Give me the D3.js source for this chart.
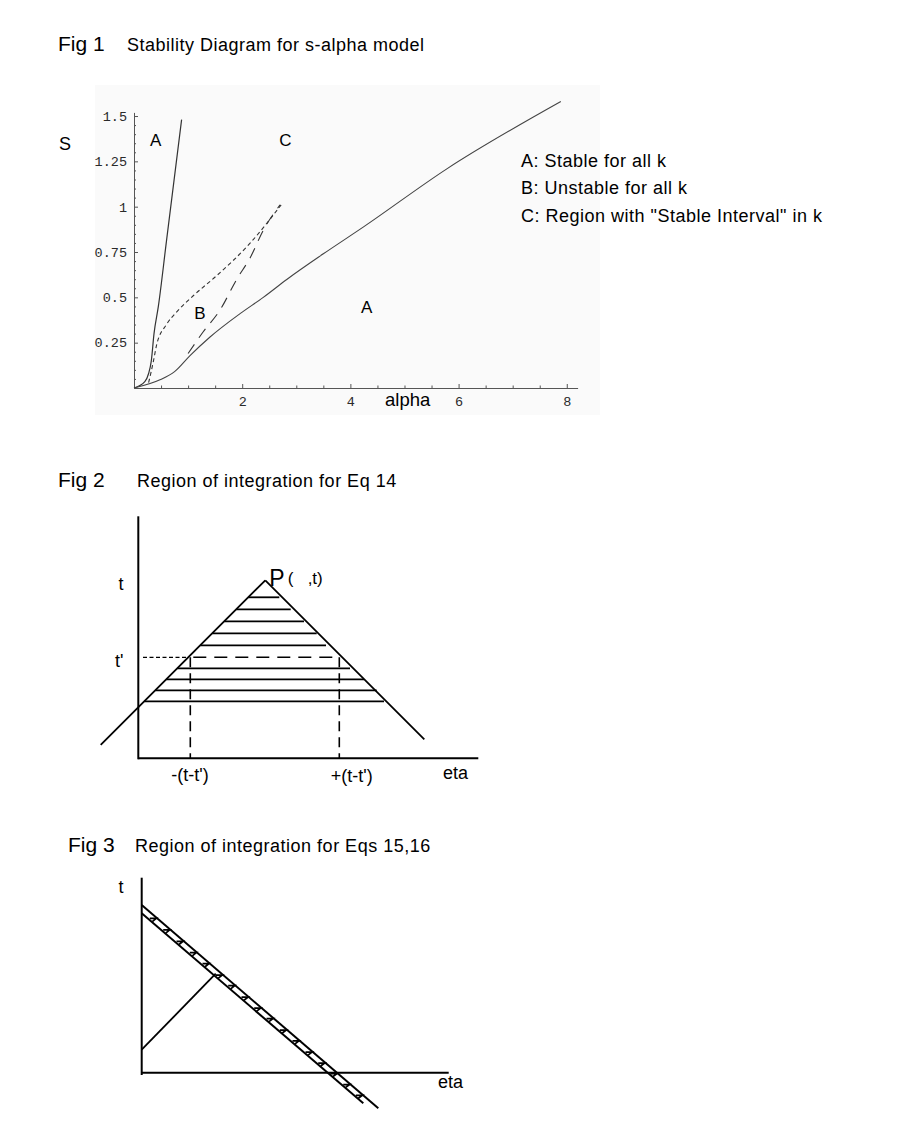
<!DOCTYPE html>
<html><head><meta charset="utf-8">
<script src="https://cdn.jsdelivr.net/npm/d3@7"></script>
<style>
body{margin:0;background:#fff}
svg{display:block}
text{font-family:"Liberation Sans",Arial,Helvetica,sans-serif;fill:#000}
.mono{font-family:"Liberation Mono","Courier New",monospace;font-size:13.5px;fill:#2a2a2a}
.ttl{font-size:18px;letter-spacing:0.5px}
.fig{font-size:21px}
</style>
</head><body>
<svg id="c" width="900" height="1144"></svg>
<script>
// ---------- Fig 1 data ----------
const alphaTicks = [2, 4, 6, 8];
const alphaMinor = [0.5, 1, 1.5, 2.5, 3, 3.5, 4.5, 5, 5.5, 6.5, 7, 7.5];
const sTicks = [0.25, 0.5, 0.75, 1, 1.25, 1.5];
const sMinor = [0.05,0.1,0.15,0.2,0.3,0.35,0.4,0.45,0.55,0.6,0.65,0.7,0.8,0.85,0.9,0.95,1.05,1.1,1.15,1.2,1.3,1.35,1.4,1.45];
const steepCurve = [[0,0],[0.2,0.035],[0.27,0.08],[0.32,0.15],[0.37,0.30],[0.45,0.45],[0.6,0.81],[0.88,1.48]];
const lowerCurve = [[0,0],[0.48,0.045],[0.75,0.09],[1.04,0.18],[1.4,0.28],[1.96,0.41],[2.39,0.50],[2.83,0.60],[3.5,0.74],[4.25,0.89],[5.79,1.21],[7.89,1.58]];
const shortDashCurve = [[0.27,0.03],[0.31,0.08],[0.36,0.15],[0.42,0.24],[0.60,0.35],[0.79,0.42],[1.10,0.51],[1.53,0.62],[2.15,0.80],[2.72,1.01]];
const longDashCurve = [[1.0,0.19],[1.28,0.31],[1.59,0.43],[1.90,0.60],[2.15,0.72],[2.39,0.87],[2.70,1.01]];
const regionText = ["A", "C", "B", "A"];
const regionAlpha = [0.40, 2.80, 1.22, 4.30];
const regionS = [1.335, 1.335, 0.38, 0.415];
const legendLines = ["A: Stable for all k", "B: Unstable for all k", "C: Region with \"Stable Interval\" in k"];

// ---------- Fig 2 data (diagram units) ----------
const coneLeft = [[-37.6,13.4],[127,178]];
const coneRight = [[127,178],[286,19]];
const hatchT = [161,149,137,125,113,90,79,68,57];
const hatchRightEta = [141,152.4,165.7,178.4,187.7,211.7,225.7,238.4,245.7];
const tPrime = 101;
const tPrimeSegments = [[4.7,50],[52,201.7]];
const footEta = [52, 201];

// ---------- Fig 3 data (diagram units) ----------
const upperLine = [[0,167.7],[236.6,-35.6]];
const lowerLine = [[0,159.4],[221.6,-30.6]];
const rayLine = [[0,23],[74,99]];
const hatch3Eta = [11.6,25,38.3,51.6,64.3,77.6,90,103.3,116,128.3,141.6,154.3,167.3,180,192.3,205,217.6];

const svg = d3.select("#c");

// ===== Fig 1 =====
svg.append("text").attr("class","fig").attr("x",58).attr("y",51).text("Fig 1");
svg.append("text").attr("class","ttl").attr("x",127).attr("y",51).text("Stability Diagram for s-alpha model");

svg.append("rect").attr("x",95).attr("y",85).attr("width",505).attr("height",330).attr("fill","#fafafa");

const x1 = d3.scaleLinear().domain([0,8.2]).range([134,577.6]);
const y1 = d3.scaleLinear().domain([0,1.52]).range([388,112.4]);

const g1 = svg.append("g");
const xAxis = g1.append("g").attr("transform","translate(0,388)")
  .call(d3.axisBottom(x1).tickValues(alphaTicks).tickSizeInner(-4).tickSizeOuter(0).tickPadding(8).tickFormat(d=>String(d)));
xAxis.selectAll("text").attr("class","mono");
g1.append("g").attr("transform","translate(0,388)")
  .call(d3.axisBottom(x1).tickValues(alphaMinor).tickSizeInner(-2.5).tickSizeOuter(0).tickFormat(""))
  .select(".domain").remove();
const yAxis = g1.append("g").attr("transform","translate(134,0)")
  .call(d3.axisLeft(y1).tickValues(sTicks).tickSizeInner(-4).tickSizeOuter(0).tickPadding(7).tickFormat(d=>String(d)));
yAxis.selectAll("text").attr("class","mono");
g1.append("g").attr("transform","translate(134,0)")
  .call(d3.axisLeft(y1).tickValues(sMinor).tickSizeInner(-2).tickSizeOuter(0).tickFormat(""))
  .select(".domain").remove();
g1.selectAll(".domain, .tick line").attr("stroke","#555");

const line1 = d3.line().x(d=>x1(d[0])).y(d=>y1(d[1])).curve(d3.curveMonotoneX);
g1.append("path").attr("d",line1(steepCurve)).attr("fill","none").attr("stroke","#333").attr("stroke-width",1.2);
g1.append("path").attr("d",line1(lowerCurve)).attr("fill","none").attr("stroke","#444").attr("stroke-width",1.1);
g1.append("path").attr("d",line1(shortDashCurve)).attr("fill","none").attr("stroke","#333").attr("stroke-width",1.1).attr("stroke-dasharray","4,3");
g1.append("path").attr("d",line1(longDashCurve)).attr("fill","none").attr("stroke","#333").attr("stroke-width",1.1).attr("stroke-dasharray","11,8");

regionText.forEach((t,i)=>{
  g1.append("text").attr("x",x1(regionAlpha[i])).attr("y",y1(regionS[i])).attr("text-anchor","middle").attr("font-size",17).text(t);
});
svg.append("text").attr("x",65).attr("y",150).attr("text-anchor","middle").attr("font-size",18).text("S");
svg.append("text").attr("x",385).attr("y",406).attr("font-size",18.5).text("alpha");
legendLines.forEach((t,i)=>{
  svg.append("text").attr("class","ttl").attr("x",521).attr("y",166.5+i*27.5).text(t);
});

// ===== Fig 2 =====
svg.append("text").attr("class","fig").attr("x",58).attr("y",487).text("Fig 2");
svg.append("text").attr("class","ttl").attr("x",137).attr("y",487).text("Region of integration for Eq 14");

const x2 = d3.scaleLinear().domain([0,340]).range([138.3,478.3]);
const y2 = d3.scaleLinear().domain([0,242]).range([758.3,516.3]);
const line2 = d3.line().x(d=>x2(d[0])).y(d=>y2(d[1]));
const g2 = svg.append("g").attr("fill","none").attr("stroke","#000");
g2.append("path").attr("d",line2([[0,242],[0,-1]])).attr("stroke-width",2);
g2.append("path").attr("d",line2([[0,0],[340,0]])).attr("stroke-width",2);
g2.append("path").attr("d",line2(coneLeft)).attr("stroke-width",1.8);
g2.append("path").attr("d",line2(coneRight)).attr("stroke-width",1.8);
hatchT.forEach((t,i)=>{
  g2.append("path").attr("d",line2([[t-51,t],[hatchRightEta[i],t]])).attr("stroke-width",1.8);
});
g2.append("path").attr("d",line2([[tPrimeSegments[0][0],tPrime],[tPrimeSegments[0][1],tPrime]])).attr("stroke-width",1.2).attr("stroke-dasharray","4,2.5");
g2.append("path").attr("d",line2([[tPrimeSegments[1][0],tPrime],[tPrimeSegments[1][1],tPrime]])).attr("stroke-width",1.4).attr("stroke-dasharray","13,8").attr("stroke-dashoffset",-3);
footEta.forEach(e=>{
  g2.append("path").attr("d",line2([[e,tPrime],[e,0]])).attr("stroke-width",1.6).attr("stroke-dasharray","10,6");
});
const lab2 = svg.append("g");
lab2.append("text").attr("x",x2(-17.3)).attr("y",y2(168.3)).attr("text-anchor","middle").attr("font-size",18).text("t");
lab2.append("text").attr("x",x2(-23.3)).attr("y",y2(91.6)).attr("font-size",18).text("t'");
lab2.append("text").attr("x",x2(131)).attr("y",y2(172.3)).attr("font-size",23).text("P");
lab2.append("text").attr("x",x2(149.5)).attr("y",y2(174)).attr("font-size",17).style("white-space","pre").text("(   ,t)");
lab2.append("text").attr("x",x2(51.7)).attr("y",y2(-22.4)).attr("text-anchor","middle").attr("font-size",18).text("-(t-t')");
lab2.append("text").attr("x",x2(213.4)).attr("y",y2(-23.4)).attr("text-anchor","middle").attr("font-size",18).text("+(t-t')");
lab2.append("text").attr("x",x2(304.7)).attr("y",y2(-21)).attr("font-size",18).text("eta");

// ===== Fig 3 =====
svg.append("text").attr("class","fig").attr("x",68).attr("y",852).text("Fig 3");
svg.append("text").attr("class","ttl").attr("x",135).attr("y",852).text("Region of integration for Eqs 15,16");

const x3 = d3.scaleLinear().domain([0,307]).range([141.7,448.7]);
const y3 = d3.scaleLinear().domain([0,195]).range([1072.7,877.7]);
const line3 = d3.line().x(d=>x3(d[0])).y(d=>y3(d[1]));
const g3 = svg.append("g").attr("fill","none").attr("stroke","#000");
g3.append("path").attr("d",line3([[0,195],[0,-2.3]])).attr("stroke-width",2);
g3.append("path").attr("d",line3([[0,0],[307,0]])).attr("stroke-width",2);
g3.append("path").attr("d",line3(upperLine)).attr("stroke-width",2);
g3.append("path").attr("d",line3(lowerLine)).attr("stroke-width",2);
g3.append("path").attr("d",line3(rayLine)).attr("stroke-width",1.8);
const slopeU = (upperLine[1][1]-upperLine[0][1])/(upperLine[1][0]-upperLine[0][0]);
const slopeL = (lowerLine[1][1]-lowerLine[0][1])/(lowerLine[1][0]-lowerLine[0][0]);
const uAt = e => upperLine[0][1] + slopeU*e;
const lAt = e => lowerLine[0][1] + slopeL*e;
hatch3Eta.forEach(e=>{
  const tt = uAt(e+3)-0.8;
  g3.append("path").attr("d",line3([[e-3.5,tt],[e+3,tt],[e-1,lAt(e-1)+0.8]])).attr("stroke-width",1.7);
});
svg.append("text").attr("x",x3(-20.7)).attr("y",y3(179.7)).attr("text-anchor","middle").attr("font-size",18).text("t");
svg.append("text").attr("x",x3(296.3)).attr("y",y3(-15.3)).attr("font-size",18).text("eta");
</script>
</body></html>
